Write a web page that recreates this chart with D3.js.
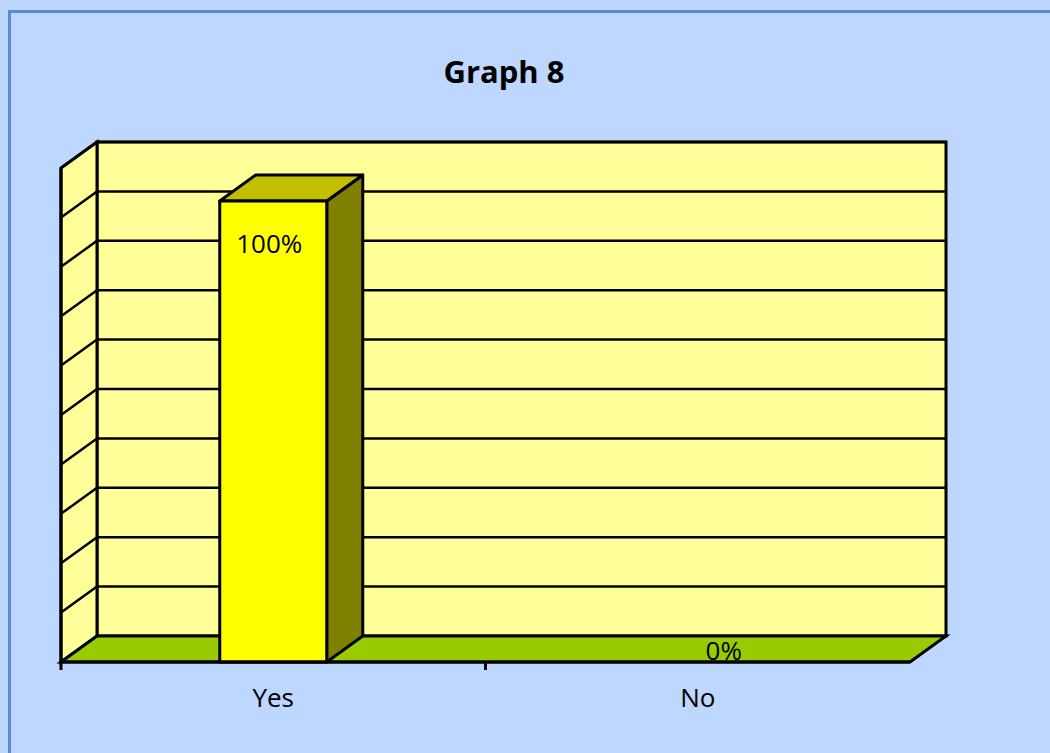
<!DOCTYPE html>
<html lang="en">
<head>
<meta charset="UTF-8">
<title>Graph 8</title>
<script src="https://d3js.org/d3.v7.min.js"></script>
<style>
    html, body { margin: 0; padding: 0; background: #BDD7FF; }
    body { font-family: "Open Sans", "Liberation Sans", sans-serif; }
</style>
</head>
<body>
<div id="chart"></div>
<script>
    // Data (counts; labels show share of answers)
    const categories = ["Yes", "No"];
    const counts = [28, 0];
    const valueLabels = ["100%", "0%"];
    const yMax = 30;
    const yStep = 3;

    const W = 1050, H = 753;
    // front plane of the 3D box and depth offset
    const plotLeft = 61, plotRight = 910, plotBottom = 662, plotTop = 168;
    const dx = 36, dy = -26;

    const svg = d3.select("#chart").append("svg")
        .attr("width", W).attr("height", H)
        .style("display", "block");

    // outer frame (only left and top edges visible in the window)
    svg.append("rect")
        .attr("x", 9.5).attr("y", 11.5)
        .attr("width", W + 20).attr("height", H + 20)
        .attr("fill", "#BDD7FF")
        .attr("stroke", "#558ED5").attr("stroke-width", 3);

    svg.append("text")
        .attr("x", 504).attr("y", 83)
        .attr("text-anchor", "middle")
        .attr("font-weight", "bold")
        .attr("font-size", 31)
        .text("Graph 8");

    const x = d3.scaleBand().domain(categories).range([plotLeft, plotRight]).paddingInner(0).paddingOuter(0);
    const y = d3.scaleLinear().domain([0, yMax]).range([plotBottom, plotTop]);
    const ticks = d3.range(0, yMax + yStep / 2, yStep);

    const pts = a => a.map(p => p.join(",")).join(" ");
    const stroke = "#000";
    const sw = 3;

    // back wall
    svg.append("polygon")
        .attr("points", pts([[plotLeft + dx, y(yMax) + dy], [plotRight + dx, y(yMax) + dy], [plotRight + dx, y(0) + dy], [plotLeft + dx, y(0) + dy]]))
        .attr("fill", "#FFFF99").attr("stroke", stroke).attr("stroke-width", sw);

    // side wall
    svg.append("polygon")
        .attr("points", pts([[plotLeft, y(yMax)], [plotLeft + dx, y(yMax) + dy], [plotLeft + dx, y(0) + dy], [plotLeft, y(0)]]))
        .attr("fill", "#FFFF99").attr("stroke", stroke).attr("stroke-width", sw);

    // floor
    svg.append("polygon")
        .attr("points", pts([[plotLeft, y(0)], [plotLeft + dx, y(0) + dy], [plotRight + dx, y(0) + dy], [plotRight, y(0)]]))
        .attr("fill", "#99CC00").attr("stroke", stroke).attr("stroke-width", sw);

    // gridlines on back and side walls
    const grid = svg.append("g").attr("stroke", stroke).attr("stroke-width", 2.5);
    grid.selectAll("line.back").data(ticks.slice(1)).join("line")
        .attr("class", "back")
        .attr("x1", plotLeft + dx).attr("x2", plotRight + dx)
        .attr("y1", d => y(d) + dy).attr("y2", d => y(d) + dy);
    grid.selectAll("line.side").data(ticks.slice(1)).join("line")
        .attr("class", "side")
        .attr("x1", plotLeft).attr("x2", plotLeft + dx)
        .attr("y1", d => y(d)).attr("y2", d => y(d) + dy);

    // bars
    const barW = 107;
    const bars = svg.append("g").attr("stroke", stroke).attr("stroke-width", sw).attr("stroke-linejoin", "round");
    counts.forEach((v, i) => {
        if (v <= 0) return;
        const x0 = x(categories[i]) + x.bandwidth() / 2 - barW / 2;
        const x1 = x0 + barW;
        const y0 = y(0), y1 = y(v);
        bars.append("polygon")
            .attr("points", pts([[x1, y1], [x1 + dx, y1 + dy], [x1 + dx, y0 + dy], [x1, y0]]))
            .attr("fill", "#808000");
        bars.append("polygon")
            .attr("points", pts([[x0, y1], [x0 + dx, y1 + dy], [x1 + dx, y1 + dy], [x1, y1]]))
            .attr("fill", "#C4BE00");
        bars.append("rect")
            .attr("x", x0).attr("y", y1).attr("width", barW).attr("height", y0 - y1)
            .attr("fill", "#FFFF00");
    });

    // value labels
    svg.selectAll("text.val").data(counts).join("text")
        .attr("class", "val")
        .attr("text-anchor", "middle")
        .attr("font-size", 26)
        .attr("x", (d, i) => x(categories[i]) + x.bandwidth() / 2 + (d > 0 ? -4 : 26))
        .attr("y", d => d > 0 ? y(d) + 52 : y(0) - 2)
        .text((d, i) => valueLabels[i]);

    // category axis
    svg.append("line")
        .attr("x1", plotLeft).attr("x2", plotRight).attr("y1", plotBottom).attr("y2", plotBottom)
        .attr("stroke", stroke).attr("stroke-width", sw);
    svg.append("line")
        .attr("x1", plotLeft).attr("x2", plotLeft).attr("y1", y(yMax)).attr("y2", plotBottom + 8)
        .attr("stroke", stroke).attr("stroke-width", sw);
    svg.selectAll("line.tick").data(categories.slice(1)).join("line")
        .attr("class", "tick")
        .attr("x1", d => x(d)).attr("x2", d => x(d))
        .attr("y1", plotBottom).attr("y2", plotBottom + 8)
        .attr("stroke", stroke).attr("stroke-width", sw);
    svg.selectAll("text.cat").data(categories).join("text")
        .attr("class", "cat")
        .attr("text-anchor", "middle")
        .attr("font-size", 26)
        .attr("x", d => x(d) + x.bandwidth() / 2)
        .attr("y", plotBottom + 45)
        .text(d => d);
</script>
</body>
</html>
